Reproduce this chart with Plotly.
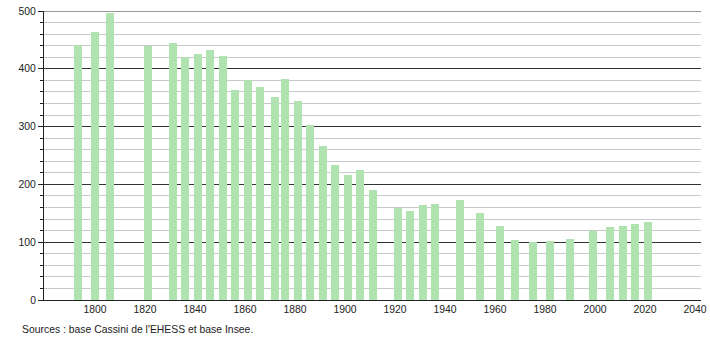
import plotly.graph_objects as go

years = [1793, 1800, 1806, 1821, 1831, 1836, 1841, 1846, 1851, 1856, 1861, 1866,
         1872, 1876, 1881, 1886, 1891, 1896, 1901, 1906, 1911, 1921, 1926, 1931,
         1936, 1946, 1954, 1962, 1968, 1975, 1982, 1990, 1999, 2006, 2011, 2016, 2021]
population = [442, 463, 497, 439, 445, 421, 426, 433, 423, 364, 380, 369,
              351, 383, 345, 302, 266, 233, 216, 225, 190, 159, 154, 165,
              166, 173, 151, 128, 104, 100, 102, 106, 119, 126, 128, 132, 135]
x_ticks = list(range(1800, 2041, 20))
y_ticks = list(range(0, 501, 100))
source_text = "Sources : base Cassini de l'EHESS et base Insee."

fig = go.Figure(go.Bar(
    x=years, y=population, width=3.2,
    marker=dict(color="rgb(176,227,176)", line=dict(width=0)),
))

font = dict(family="Liberation Sans, Arial, sans-serif", size=10.4, color="#222")

W, H = 710, 340
ML, MR, MT, MB = 44, 9, 11, 40
plot_w = W - ML - MR
plot_h = H - MT - MB

fig.update_layout(
    width=W, height=H,
    margin=dict(l=ML, r=MR, t=MT, b=MB, autoexpand=False),
    plot_bgcolor="white", paper_bgcolor="white",
    font=font, showlegend=False, bargap=0,
    xaxis=dict(
        range=[1779.6, 2042.4], tickvals=x_ticks, ticks="",
        showgrid=False, zeroline=False, automargin=False,
        showline=True, linecolor="#222", linewidth=1,
        tickfont=font, fixedrange=True,
    ),
    yaxis=dict(
        range=[0, 500], tickvals=y_ticks, ticks="outside", ticklen=5,
        tickcolor="#222", tickwidth=1, automargin=False,
        showgrid=True, gridcolor="#333", gridwidth=1,
        zeroline=False, showline=True, linecolor="#222", linewidth=1,
        minor=dict(dtick=20, showgrid=True, gridcolor="#c8c8c8", gridwidth=1,
                   ticks="outside", ticklen=3, tickcolor="#222"),
        tickfont=font, fixedrange=True,
    ),
    shapes=[dict(type="line", xref="paper", yref="y", x0=0, x1=1,
                 y0=y_ticks[-1], y1=y_ticks[-1],
                 line=dict(color="#333", width=1), layer="below")],
    annotations=[dict(
        text=source_text, x=(20 - ML) / plot_w, y=(MB - 11 - MB - 18) / plot_h,
        xref="paper", yref="paper",
        showarrow=False, font=font, xanchor="left", yanchor="middle",
    )],
)
fig.layout.annotations[0].y = -(329 - (H - MB)) / plot_h

fig.write_html("out.html")
